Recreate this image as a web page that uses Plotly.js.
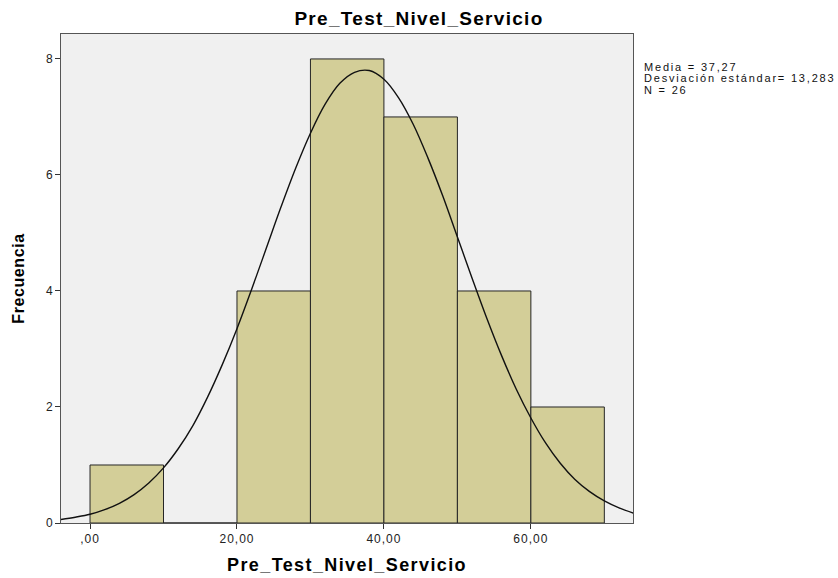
<!DOCTYPE html>
<html><head><meta charset="utf-8">
<script src="https://cdn.plot.ly/plotly-3.0.1.min.js"></script>
<style>html,body{margin:0;padding:0;background:#fff}#chart{width:838px;height:578px}</style>
</head><body><div id="chart"></div>
<script>
const binCenters = [5, 15, 25, 35, 45, 55, 65];
const frequencies = [1, 0, 4, 8, 7, 4, 2];
const curveX = [-4, -2, 0, 2, 4, 6, 8, 10, 12, 14, 16, 18, 20, 22, 24, 26, 28, 30, 32, 34, 36, 38, 40, 42, 44, 46, 48, 50, 52, 54, 56, 58, 60, 62, 64, 66, 68, 70, 72, 74];
const curveY = [0.06, 0.10, 0.15, 0.23, 0.34, 0.49, 0.69, 0.95, 1.28, 1.68, 2.17, 2.73, 3.35, 4.03, 4.74, 5.45, 6.12, 6.72, 7.22, 7.58, 7.77, 7.80, 7.65, 7.33, 6.87, 6.29, 5.64, 4.93, 4.22, 3.53, 2.89, 2.31, 1.81, 1.38, 1.03, 0.75, 0.54, 0.38, 0.26, 0.17];
const xTickVals = [0, 20, 40, 60];
const xTickText = [',00', '20,00', '40,00', '60,00'];
const yTickVals = [0, 2, 4, 6, 8];
const yTickText = ['0', '2', '4', '6', '8'];
const stats = ['Media = 37,27', 'Desviación estándar= 13,283', 'N = 26'];
const chartTitle = 'Pre_Test_Nivel_Servicio';
const xTitle = 'Pre_Test_Nivel_Servicio';
const yTitle = 'Frecuencia';

const font = 'Arial, "Liberation Sans", sans-serif';
const sp = (t, ls) => '<span style="letter-spacing:' + ls + 'px">' + t + '</span>';
const traces = [
  {type:'bar', x:binCenters, y:frequencies, width:10,
   marker:{color:'#d3ce98', line:{color:'#262626', width:1}}},
  {type:'scatter', mode:'lines', x:curveX, y:curveY,
   line:{color:'#111', width:1.4, shape:'spline', smoothing:1}}
];
const layout = {
  width:838, height:578, showlegend:false,
  paper_bgcolor:'#fff', plot_bgcolor:'#f0f0f0',
  margin:{l:61, r:205, t:34, b:55},
  title:{text:'<b>' + sp(chartTitle, 1.3) + '</b>', font:{family:font, size:19, color:'#000'},
         x:0.5, xref:'container', xanchor:'center', y:1-18.5/578, yref:'container', yanchor:'middle'},
  xaxis:{range:[-3.95, 73.9], tickvals:xTickVals, ticktext:xTickText.map(t => sp(t, 1)),
         ticks:'outside', ticklen:5, tickcolor:'#333', tickwidth:1,
         showgrid:false, zeroline:false, showline:true, linecolor:'#555', linewidth:1, mirror:true,
         tickfont:{family:font, size:12, color:'#222'},
         title:{text:'<b>' + sp(xTitle, 1.4) + '</b>', font:{family:font, size:18, color:'#000'}, standoff:12}},
  yaxis:{range:[0, 8.43], tickvals:yTickVals, ticktext:yTickText,
         ticks:'outside', ticklen:5, tickcolor:'#333', tickwidth:1,
         showgrid:false, zeroline:false, showline:true, linecolor:'#555', linewidth:1, mirror:true,
         tickfont:{family:font, size:12, color:'#222'},
         title:{text:'<b>' + sp(yTitle, 0.6) + '</b>', font:{family:font, size:16, color:'#000'}, standoff:17}},
  annotations: stats.map((s, i) => ({text:sp(s, 1.8), xref:'paper', yref:'paper', x:1, xshift:9,
    y:1, yshift:-32.5 - 11.5 * i, xanchor:'left', yanchor:'middle', align:'left', showarrow:false,
    font:{family:font, size:11, color:'#111'}})),
  bargap:0
};
Plotly.newPlot('chart', traces, layout, {displayModeBar:false, staticPlot:true});
</script></body></html>
